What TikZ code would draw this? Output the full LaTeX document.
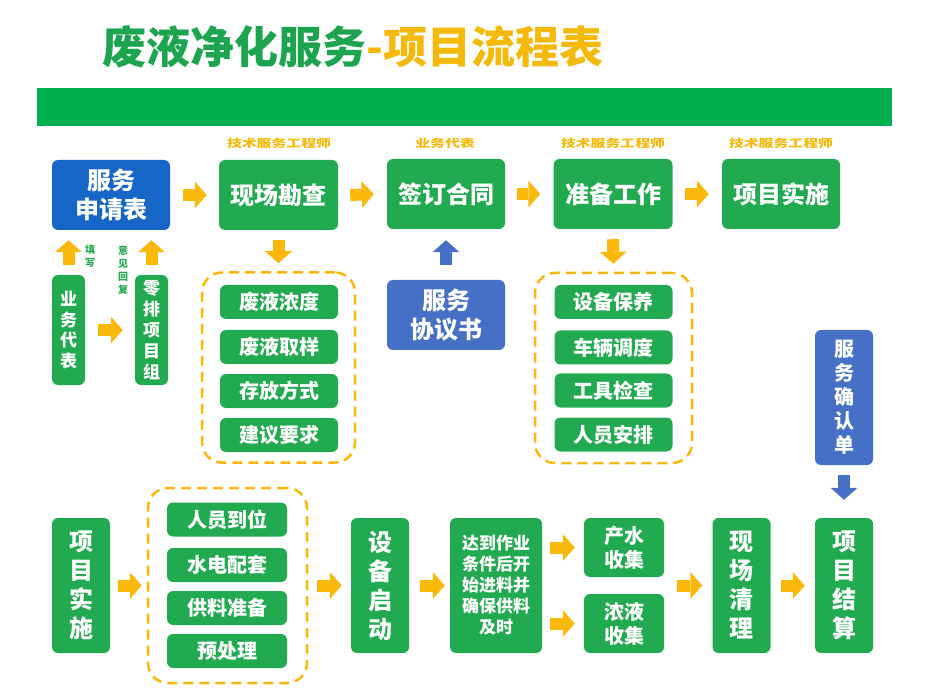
\documentclass[tikz,border=0pt]{standalone}
\usepackage{fontspec}
\setmainfont{Noto Sans CJK SC}
\usepackage{graphicx}
\usetikzlibrary{arrows.meta,calc}
\definecolor{bgreen}{RGB}{34,170,80}
\definecolor{bandgreen}{RGB}{0,176,80}
\definecolor{tgreen}{RGB}{28,165,78}
\definecolor{tor}{RGB}{245,185,10}
\definecolor{aor}{RGB}{250,185,10}
\definecolor{blueA}{RGB}{22,102,200}
\definecolor{blueB}{RGB}{70,112,198}
\tikzset{
  gbox/.style={fill=bgreen, rounded corners=6pt, text=white, inner sep=0pt, align=center,
    font=\bfseries\fontsize{24}{29}\selectfont},
  bbox/.style={gbox, fill=blueA},
  pbox/.style={gbox, fill=blueB},
  itembox/.style={gbox, minimum width=118pt, minimum height=34pt, font=\bfseries\fontsize{20}{24}\selectfont},
  vbig/.style={gbox, minimum width=58pt, minimum height=135pt},
  dashbox/.style={draw=aor, line width=2.5pt, dash pattern=on 10pt off 6pt, rounded corners=20pt, inner sep=0pt},
  subtitle/.style={text=tor, font=\bfseries\fontsize{11}{13}\selectfont},
  smalllab/.style={text=bgreen, align=center, font=\bfseries\fontsize{10}{13}\selectfont},
  fat/.style={draw=aor, line width=12pt, -{Triangle[width=27pt,length=12pt,line width=0pt]}},
  fatblue/.style={fat, draw=blueB},
}
\begin{document}
\begin{tikzpicture}[x=1pt,y=-1pt]
\useasboundingbox (0,0) rectangle (930,695);
% title and band
\node[font=\bfseries\fontsize{44}{44}\selectfont, inner sep=0pt] (title) at (353,47)
  {\textcolor{tgreen}{废液净化服务}\textcolor{tor}{-项目流程表}};
\node[fill=bandgreen, minimum width=855pt, minimum height=38pt, inner sep=0pt] (band) at (464.5,107) {};

% top row
\node[bbox, minimum width=118pt, minimum height=70pt] (app) at (111,195) {服务\\申请表};
\node[gbox, minimum width=119pt, minimum height=70pt] (site) at (278.5,195) {现场勘查};
\node[gbox, minimum width=118pt, minimum height=70pt] (sign) at (446,194) {签订合同};
\node[gbox, minimum width=119pt, minimum height=70pt] (prep) at (613,194) {准备工作};
\node[gbox, minimum width=118pt, minimum height=70pt] (impl) at (781,194) {项目实施};

\node[subtitle] (s1) at (279,143) {\scalebox{1.35}[1]{技术服务工程师}};
\node[subtitle] (s2) at (445,143) {\scalebox{1.35}[1]{业务代表}};
\node[subtitle] (s3) at (613,143) {\scalebox{1.35}[1]{技术服务工程师}};
\node[subtitle] (s4) at (781,143) {\scalebox{1.35}[1]{技术服务工程师}};

\draw[fat] ($(app.east)+(13,0)$) -- ($(site.west)+(-12,0)$);
\draw[fat] ($(site.east)+(12,0)$) -- ($(sign.west)+(-13,0)$);
\draw[fat] ($(sign.east)+(12,0)$) -- ($(prep.west)+(-13,0)$);
\draw[fat] ($(prep.east)+(12,0)$) -- ($(impl.west)+(-13,0)$);

% left part
\node[gbox, minimum width=33pt, minimum height=110pt, font=\bfseries\fontsize{17}{20.5}\selectfont] (rep) at (68.5,330) {业\\务\\代\\表};
\node[gbox, minimum width=33pt, minimum height=110pt, font=\bfseries\fontsize{17}{21}\selectfont] (team) at (151.5,330) {零\\排\\项\\目\\组};
\node[smalllab] (fill) at (90,256) {填\\写};
\node[smalllab] (reply) at (123,270) {意\\见\\回\\复};
\draw[fat] ($(rep.north)+(0,-10)$) -- ($(rep.north |- app.south)+(0,10)$);
\draw[fat] ($(team.north)+(0,-10)$) -- ($(team.north |- app.south)+(0,10)$);
\draw[fat] ($(rep.east)+(13,0)$) -- ($(team.west)+(-12,0)$);

% site survey group
\node[dashbox, minimum width=153pt, minimum height=190pt] (g1) at (278.5,367.5) {};
\node[itembox] (a1) at (279,302) {废液浓度};
\node[itembox] (a2) at (279,347) {废液取样};
\node[itembox] (a3) at (279,391) {存放方式};
\node[itembox] (a4) at (279,435) {建议要求};
\draw[fat] ($(site.south)+(0,10)$) -- ($(g1.north)+(0,-8)$);

% agreement
\node[pbox, minimum width=118pt, minimum height=70pt] (agree) at (446,315) {服务\\协议书};
\draw[fatblue] ($(agree.north)+(0,-15)$) -- ($(sign.south)+(0,11)$);

% preparation group
\node[dashbox, minimum width=157pt, minimum height=190pt] (g2) at (613.5,368) {};
\node[itembox] (b1) at (613.5,302) {设备保养};
\node[itembox] (b2) at (613.5,347.5) {车辆调度};
\node[itembox] (b3) at (613.5,390.5) {工具检查};
\node[itembox] (b4) at (613.5,434.5) {人员安排};
\draw[fat] ($(prep.south)+(0,10)$) -- ($(g2.north)+(0,-8)$);

% confirmation
\node[pbox, minimum width=58pt, minimum height=135pt, font=\bfseries\fontsize{20}{24}\selectfont] (conf) at (844,397.5) {服\\务\\确\\认\\单};

% bottom row
\node[vbig] (impl2) at (81,585.5) {项\\目\\实\\施};
\node[dashbox, minimum width=159pt, minimum height=195pt] (g3) at (227.5,585.5) {};
\node[itembox, minimum width=120pt] (c1) at (227,519.5) {人员到位};
\node[itembox, minimum width=120pt] (c2) at (227,565) {水电配套};
\node[itembox, minimum width=120pt] (c3) at (227,608) {供料准备};
\node[itembox, minimum width=120pt] (c4) at (227,651) {预处理};
\node[vbig] (start) at (380,585.5) {设\\备\\启\\动};
\node[gbox, minimum width=92pt, minimum height=135pt, font=\bfseries\fontsize{17}{21}\selectfont] (cond) at (496,585.5) {达到作业\\条件后开\\始进料并\\确保供料\\及时};
\node[gbox, minimum width=80pt, minimum height=59pt, font=\bfseries\fontsize{20}{24}\selectfont] (water) at (624,547.5) {产水\\收集};
\node[gbox, minimum width=80pt, minimum height=59pt, font=\bfseries\fontsize{20}{24}\selectfont] (conc) at (624,623.5) {浓液\\收集};
\node[vbig] (clean) at (741.5,585.5) {现\\场\\清\\理};
\node[vbig] (settle) at (844,585.5) {项\\目\\结\\算};

\draw[fat] ($(impl2.east)+(8,0)$) -- ($(g3.west)+(-5,0)$);
\draw[fat] ($(g3.east)+(9,0)$) -- ($(start.west)+(-9,0)$);
\draw[fat] ($(start.east)+(11,0)$) -- ($(cond.west)+(-5,0)$);
\draw[fat] ($(cond.east |- water.west)+(8,0)$) -- ($(water.west)+(-9,0)$);
\draw[fat] ($(cond.east |- conc.west)+(8,0)$) -- ($(conc.west)+(-9,0)$);
\draw[fat] ($(water.east |- clean.west)+(13,0)$) -- ($(clean.west)+(-10,0)$);
\draw[fat] ($(clean.east)+(10,0)$) -- ($(settle.west)+(-10,0)$);
\draw[fatblue] ($(conf.south)+(0,10)$) -- ($(settle.north)+(0,-18)$);
\end{tikzpicture}
\end{document}
